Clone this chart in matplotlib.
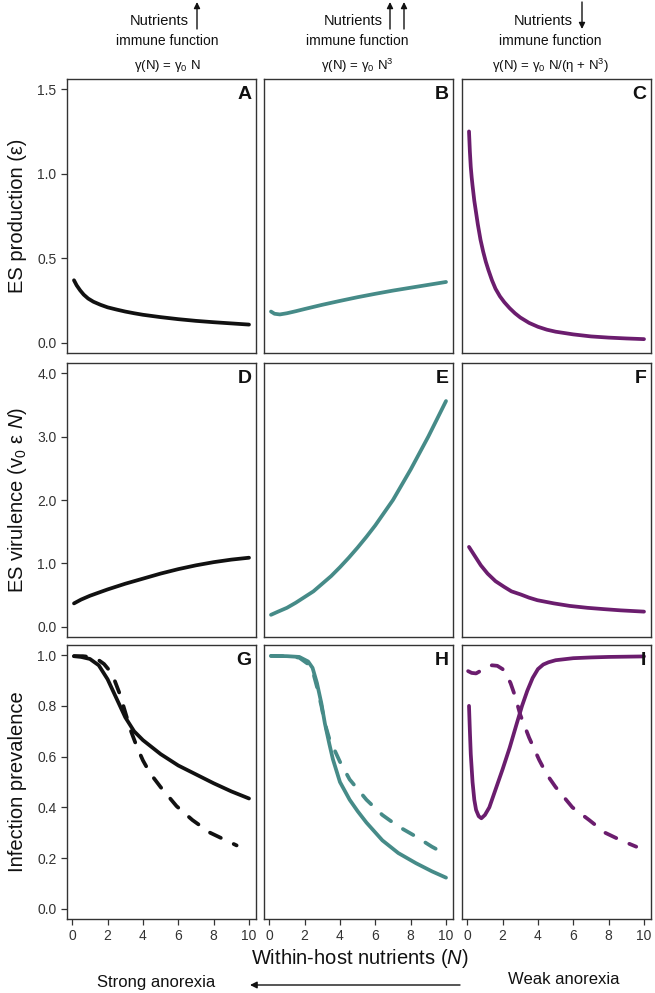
import matplotlib
matplotlib.use("Agg")
import matplotlib.pyplot as plt
from matplotlib.patches import FancyArrowPatch
from matplotlib.ticker import FormatStrFormatter

plt.rcParams['font.family'] = ['Liberation Sans', 'DejaVu Sans']
plt.rcParams['mathtext.fontset'] = 'custom'
plt.rcParams['mathtext.rm'] = 'Liberation Sans'
plt.rcParams['mathtext.it'] = 'Liberation Sans:italic'
plt.rcParams['mathtext.bf'] = 'Liberation Sans:bold'

# ---------------- data ----------------
# Row 1: ES production (epsilon)
A_N = [0.1, 0.25, 0.45, 0.65, 0.9, 1.2, 1.6, 2.0, 2.5, 3.0, 3.5, 4.0, 5.0, 6.0, 7.0, 8.0, 9.0, 10.0]
A_y = [0.37, 0.34, 0.31, 0.285, 0.262, 0.243, 0.225, 0.21, 0.197, 0.185, 0.175, 0.166, 0.152, 0.140, 0.130, 0.122, 0.115, 0.108]
B_N = [0.1, 0.3, 0.6, 1.0, 1.5, 2.0, 3.0, 4.0, 5.0, 6.0, 7.0, 8.0, 9.0, 10.0]
B_y = [0.185, 0.172, 0.168, 0.175, 0.187, 0.20, 0.225, 0.248, 0.27, 0.29, 0.309, 0.326, 0.343, 0.36]
C_N = [0.1, 0.15, 0.2, 0.25, 0.3, 0.4, 0.5, 0.6, 0.75, 0.9, 1.05, 1.2, 1.4, 1.6, 1.85, 2.1, 2.4, 2.7, 3.0, 3.5, 4.0, 4.5, 5.0, 6.0, 7.0, 8.0, 9.0, 10.0]
C_y = [1.25, 1.13, 1.04, 0.98, 0.93, 0.84, 0.77, 0.70, 0.61, 0.54, 0.48, 0.43, 0.37, 0.32, 0.275, 0.24, 0.205, 0.175, 0.15, 0.118, 0.095, 0.078, 0.066, 0.05, 0.038, 0.031, 0.026, 0.022]

# Row 2: ES virulence
D_N = [0.1, 0.5, 1.0, 1.5, 2.0, 3.0, 4.0, 5.0, 6.0, 7.0, 8.0, 9.0, 10.0]
D_y = [0.37, 0.43, 0.49, 0.54, 0.59, 0.68, 0.76, 0.84, 0.91, 0.97, 1.02, 1.06, 1.09]
E_N = [0.1, 0.5, 1.0, 1.5, 2.0, 2.5, 3.0, 3.5, 4.0, 4.5, 5.0, 5.5, 6.0, 6.5, 7.0, 7.5, 8.0, 8.5, 9.0, 9.5, 10.0]
E_y = [0.19, 0.24, 0.30, 0.38, 0.47, 0.56, 0.68, 0.80, 0.94, 1.09, 1.25, 1.42, 1.60, 1.80, 2.00, 2.24, 2.48, 2.74, 3.00, 3.28, 3.56]
F_N = [0.1, 0.4, 0.77, 1.15, 1.6, 2.09, 2.5, 3.03, 3.5, 3.97, 4.9, 5.8, 6.8, 7.7, 8.68, 10.0]
F_y = [1.26, 1.13, 0.97, 0.84, 0.72, 0.63, 0.56, 0.51, 0.46, 0.42, 0.37, 0.33, 0.30, 0.28, 0.26, 0.24]

# Row 3: Infection prevalence (solid and dashed)
G_N = [0.1, 0.5, 1.0, 1.5, 2.0, 2.5, 3.0, 3.5, 4.0, 5.0, 6.0, 7.0, 8.0, 9.0, 10.0]
G_y = [0.996, 0.993, 0.985, 0.96, 0.905, 0.83, 0.755, 0.70, 0.665, 0.61, 0.565, 0.53, 0.495, 0.463, 0.435]
G_dN = [0.1, 0.6, 1.0, 1.4, 1.8, 2.1, 2.4, 2.7, 3.0, 3.3, 3.65, 4.0, 4.4, 5.0, 5.9, 6.8, 7.8, 9.3]
G_dy = [0.996, 0.996, 0.993, 0.985, 0.965, 0.94, 0.90, 0.845, 0.775, 0.705, 0.64, 0.585, 0.535, 0.48, 0.405, 0.35, 0.30, 0.25]
H_N = [0.1, 1.0, 1.7, 2.2, 2.45, 2.7, 2.95, 3.15, 3.4, 3.6, 4.0, 4.55, 5.0, 5.5, 6.4, 7.3, 8.3, 9.2, 10.0]
H_y = [0.997, 0.996, 0.993, 0.975, 0.95, 0.89, 0.81, 0.73, 0.65, 0.59, 0.50, 0.43, 0.385, 0.34, 0.27, 0.22, 0.18, 0.148, 0.123]
H_dN = [0.1, 1.0, 1.7, 2.2, 2.45, 2.7, 2.95, 3.15, 3.4, 3.6, 4.0, 4.55, 5.5, 6.4, 7.3, 8.3, 9.2, 10.0]
H_dy = [0.997, 0.996, 0.99, 0.965, 0.94, 0.875, 0.80, 0.73, 0.67, 0.64, 0.58, 0.51, 0.43, 0.37, 0.325, 0.285, 0.245, 0.215]
I_N = [0.1, 0.15, 0.2, 0.3, 0.4, 0.5, 0.65, 0.8, 1.0, 1.25, 1.6, 2.0, 2.4, 2.8, 3.1, 3.4, 3.7, 4.0, 4.3, 4.6, 5.0, 6.0, 7.0, 8.0, 9.0, 10.0]
I_y = [0.80, 0.70, 0.61, 0.50, 0.43, 0.39, 0.365, 0.357, 0.37, 0.40, 0.47, 0.55, 0.635, 0.73, 0.80, 0.86, 0.91, 0.945, 0.963, 0.972, 0.98, 0.988, 0.991, 0.993, 0.994, 0.995]
I_dN = [0.05, 0.25, 0.5, 0.8, 1.1, 1.4, 1.7, 2.0, 2.2, 2.45, 2.7, 3.0, 3.5, 4.07, 4.5, 5.0, 5.95, 6.9, 7.8, 8.7, 9.56]
I_dy = [0.937, 0.93, 0.928, 0.94, 0.955, 0.96, 0.958, 0.945, 0.925, 0.89, 0.84, 0.765, 0.675, 0.587, 0.53, 0.48, 0.40, 0.35, 0.30, 0.27, 0.245]

panel_letters = ['A', 'B', 'C', 'D', 'E', 'F', 'G', 'H', 'I']
row_yticks = [[0.0, 0.5, 1.0, 1.5], [0.0, 1.0, 2.0, 3.0, 4.0], [0.0, 0.2, 0.4, 0.6, 0.8, 1.0]]
row_ylims = [(0.0, 1.5), (0.0, 4.0), (0.0, 1.0)]
xticks = [0, 2, 4, 6, 8, 10]
ylabels = ['ES production (ε)', r'ES virulence $(\mathrm{v}_0\ \mathrm{\varepsilon}\ \mathit{N})$', 'Infection prevalence']
header_formulas = ['γ(N) = γ$_0$ N', 'γ(N) = γ$_0$ N$^3$', 'γ(N) = γ$_0$ N/(η + N$^3$)']

# ---------------- styling ----------------
BLACK = '#111111'
TEAL = '#468b88'
PURPLE = '#6b1d6e'
col_colors = [BLACK, TEAL, PURPLE]
LW = 2.7
DASH = (3.2, 3.8)

W, H = 655, 993
fig = plt.figure(figsize=(W / 100, H / 100), dpi=100)

cols = [(67, 256), (264, 453), (462, 651)]
rows = [(79, 353), (363, 637), (645, 919)]

solid_data = [[(A_N, A_y), (B_N, B_y), (C_N, C_y)],
              [(D_N, D_y), (E_N, E_y), (F_N, F_y)],
              [(G_N, G_y), (H_N, H_y), (I_N, I_y)]]
dash_data = [[None, None, None], [None, None, None],
             [(G_dN, G_dy), (H_dN, H_dy), (I_dN, I_dy)]]

for r, (top, bot) in enumerate(rows):
    for c, (left, right) in enumerate(cols):
        ax = fig.add_axes([left / W, 1 - bot / H, (right - left) / W, (bot - top) / H])
        col = col_colors[c]
        xs, ys = solid_data[r][c]
        ax.plot(xs, ys, color=col, lw=LW, solid_capstyle='round', solid_joinstyle='round')
        if dash_data[r][c] is not None:
            dx, dy = dash_data[r][c]
            ax.plot(dx, dy, color=col, lw=LW, dashes=DASH, dash_capstyle='round',
                    dash_joinstyle='round')
        ax.set_xlim(0.1 - 0.396, 10.396)
        lo, hi = row_ylims[r]
        pad = 0.04 * (hi - lo)
        ax.set_ylim(lo - pad, hi + pad)
        for sp in ax.spines.values():
            sp.set_color('#333333')
            sp.set_linewidth(1.0)
        ax.tick_params(direction='out', length=4.5, width=0.9, color='#333333',
                       labelsize=10, labelcolor='#333333', pad=3)
        if c == 0:
            ax.set_yticks(row_yticks[r])
            ax.yaxis.set_major_formatter(FormatStrFormatter('%.1f'))
        else:
            ax.set_yticks([])
        if r == 2:
            ax.set_xticks(xticks)
        else:
            ax.set_xticks([])
        ax.text(0.975, 0.975, panel_letters[r * 3 + c], transform=ax.transAxes,
                ha='right', va='top', fontsize=14, fontweight='bold', color='#111111')

# y labels
for r, (top, bot) in enumerate(rows):
    fig.text(18 / W, 1 - ((top + bot) / 2) / H, ylabels[r], rotation=90,
             ha='center', va='center', fontsize=14.5, color='#111111')

# headers
head_centers = [167, 357, 550]
for c, xc in enumerate(head_centers):
    fig.text(xc / W, 1 - 41 / H, 'immune function', ha='center', va='center',
             fontsize=10, color='#111111')
    fig.text(xc / W, 1 - 66 / H, header_formulas[c], ha='center', va='center',
             fontsize=9.5, color='#111111')

nut_right = [189, 383, 573]
for c, xr in enumerate(nut_right):
    fig.text(xr / W, 1 - 21 / H, 'Nutrients', ha='right', va='center',
             fontsize=10.5, color='#111111')

def farrow(x0, y0, x1, y1, ms=9):
    p = FancyArrowPatch((x0 / W, 1 - y0 / H), (x1 / W, 1 - y1 / H),
                        transform=fig.transFigure, arrowstyle='-|>',
                        mutation_scale=ms, color='#111111', lw=1.0,
                        shrinkA=0, shrinkB=0)
    fig.add_artist(p)

farrow(197, 29, 197, 2)
farrow(390, 29, 390, 2)
farrow(404, 29, 404, 2)
farrow(582, 2, 582, 29)

# x label and anorexia annotation
fig.text(360 / W, 1 - 958 / H, r'Within-host nutrients $(\mathit{N})$', ha='center',
         va='center', fontsize=14.5, color='#111111')
fig.text(156 / W, 1 - 982 / H, 'Strong anorexia', ha='center', va='center',
         fontsize=12, color='#111111')
fig.text(564 / W, 1 - 980 / H, 'Weak anorexia', ha='center', va='center',
         fontsize=12, color='#111111')
farrow(460, 985, 250, 985, ms=10)

fig.savefig('out.png', dpi=100)
